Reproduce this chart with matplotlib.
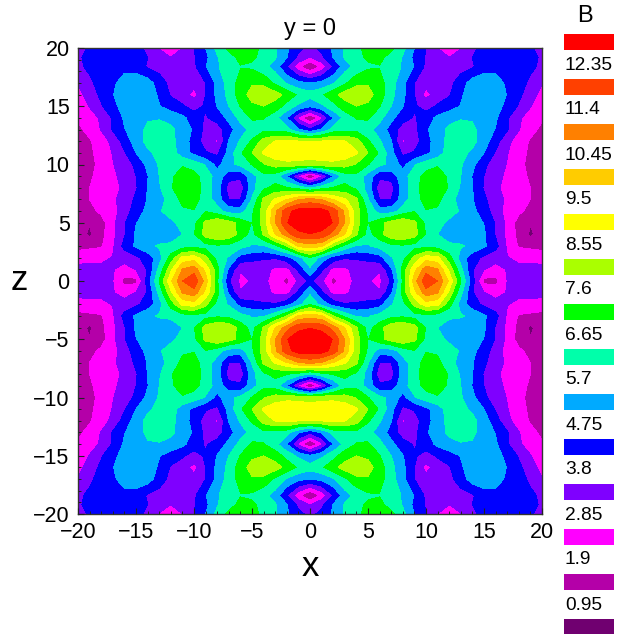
import numpy as np
import matplotlib
matplotlib.use("Agg")
import matplotlib.pyplot as plt
from matplotlib.patches import Rectangle
from matplotlib.ticker import MultipleLocator

plt.rcParams['font.family'] = ['Liberation Sans', 'DejaVu Sans']

x_vals = list(range(0, 21))
z_vals = [0, 1, 2, 3, 4, 5, 6, 7, 8, 9, 10, 11, 12, 13, 14, 15, 16, 17, 18.4, 19.2, 20]
b_z00 = [4.0, 3.0, 1.6, 2.4, 3.1, 2.9, 2.65, 3.9, 6.8, 10.0, 12.1, 11.4, 9.3, 6.7, 4.2, 1.6, 1.6, 2.85, 3.3, 3.4, 3.4]
b_z01 = [5.5, 4.0, 2.5, 2.6, 3.3, 3.1, 2.9, 4.6, 7.0, 9.2, 11.0, 10.5, 8.3, 6.0, 3.9, 2.9, 2.5, 2.9, 3.1, 3.2, 3.2]
b_z02 = [6.6, 5.3, 4.4, 3.9, 3.9, 4.1, 4.4, 5.6, 6.3, 7.9, 9.0, 8.8, 7.0, 5.3, 4.2, 3.6, 3.2, 2.9, 2.6, 2.5, 2.4]
b_z03 = [10.0, 9.7, 7.6, 6.4, 5.6, 5.6, 6.0, 6.4, 6.5, 6.3, 6.3, 6.2, 5.9, 5.8, 5.5, 4.9, 4.1, 2.7, 1.8, 1.7, 1.6]
b_z04 = [12.3, 12.1, 11.0, 9.5, 7.7, 6.3, 7.2, 8.3, 8.5, 8.0, 6.6, 5.7, 5.2, 5.2, 5.3, 4.9, 3.7, 2.6, 1.6, 0.8, 1.3]
b_z05 = [13.0, 12.9, 12.3, 10.4, 8.0, 6.6, 7.3, 8.0, 8.4, 7.8, 6.4, 6.0, 5.5, 5.3, 5.3, 4.7, 3.7, 2.6, 1.5, 1.0, 1.3]
b_z06 = [12.9, 12.8, 12.0, 10.3, 8.0, 6.5, 5.2, 5.3, 6.1, 6.6, 6.6, 6.5, 6.1, 5.6, 5.0, 4.3, 3.3, 2.5, 2.1, 1.6, 1.5]
b_z07 = [10.8, 10.4, 9.5, 8.7, 7.8, 5.8, 3.8, 3.8, 5.3, 6.2, 7.0, 6.9, 6.0, 5.4, 4.8, 4.0, 3.2, 2.7, 2.3, 1.9, 1.7]
b_z08 = [5.6, 6.3, 6.7, 6.9, 6.5, 5.3, 3.2, 3.3, 5.2, 6.2, 7.3, 7.6, 6.5, 5.6, 4.8, 3.7, 3.0, 2.6, 2.2, 1.9, 1.7]
b_z09 = [0.8, 2.6, 4.7, 6.2, 6.4, 5.3, 4.0, 4.2, 5.3, 6.2, 7.0, 7.3, 6.4, 5.7, 4.7, 3.8, 3.1, 2.7, 2.25, 1.75, 1.5]
b_z10 = [8.0, 8.2, 8.2, 8.0, 7.5, 6.7, 5.9, 5.5, 4.4, 5.6, 6.2, 6.5, 6.5, 5.8, 5.0, 4.0, 3.3, 2.8, 2.2, 1.6, 1.4]
b_z11 = [9.2, 9.3, 9.4, 9.2, 8.7, 7.6, 6.5, 5.1, 3.6, 3.9, 4.5, 5.2, 6.2, 6.0, 5.5, 4.75, 3.7, 2.9, 2.3, 1.7, 1.5]
b_z12 = [8.5, 8.6, 8.7, 8.6, 8.0, 6.8, 5.8, 4.8, 2.7, 3.3, 4.4, 5.2, 6.0, 6.5, 6.0, 5.2, 4.2, 3.1, 2.4, 1.8, 1.5]
b_z13 = [4.0, 4.9, 6.1, 6.3, 6.4, 6.0, 5.3, 4.4, 3.3, 3.5, 4.6, 5.3, 5.9, 6.2, 5.9, 5.3, 4.7, 3.9, 2.9, 2.2, 1.7]
b_z14 = [0.8, 2.6, 4.75, 6.0, 6.7, 6.8, 6.0, 5.0, 4.2, 3.7, 4.2, 5.0, 5.4, 5.6, 5.6, 5.4, 4.9, 3.9, 3.0, 2.4, 2.0]
b_z15 = [4.9, 5.5, 6.3, 7.2, 7.6, 7.4, 6.7, 5.7, 4.8, 3.9, 3.5, 3.9, 4.3, 4.8, 5.3, 5.4, 5.1, 4.5, 3.7, 2.9, 2.2]
b_z16 = [6.1, 6.5, 7.3, 8.0, 8.5, 8.0, 7.1, 6.0, 5.0, 3.8, 2.5, 3.4, 3.7, 4.6, 5.3, 5.6, 5.4, 4.7, 4.0, 3.3, 2.5]
b_z17 = [4.75, 5.0, 5.6, 6.5, 7.3, 7.5, 7.0, 6.1, 5.0, 3.8, 3.2, 3.3, 3.5, 4.3, 5.2, 5.4, 5.1, 4.6, 4.2, 3.6, 2.9]
b_z18 = [0.9, 2.2, 3.8, 5.3, 6.0, 6.5, 6.6, 6.2, 5.6, 4.7, 3.6, 3.4, 3.4, 3.4, 3.7, 4.3, 4.5, 4.6, 4.5, 4.0, 3.6]
b_z19 = [2.8, 3.6, 4.8, 5.8, 6.4, 6.8, 6.9, 6.3, 5.6, 4.5, 3.7, 3.2, 2.85, 3.2, 3.8, 4.2, 4.4, 4.5, 4.4, 4.0, 3.7]
b_z20 = [3.6, 4.0, 4.9, 5.8, 6.4, 7.0, 7.2, 6.9, 6.0, 4.75, 3.8, 2.85, 2.3, 2.8, 3.6, 4.1, 4.3, 4.4, 4.3, 3.9, 3.5]
b_rows = [b_z00, b_z01, b_z02, b_z03, b_z04, b_z05, b_z06, b_z07, b_z08, b_z09, b_z10,
          b_z11, b_z12, b_z13, b_z14, b_z15, b_z16, b_z17, b_z18, b_z19, b_z20]

contour_levels = [0.95, 1.9, 2.85, 3.8, 4.75, 5.7, 6.65, 7.6, 8.55, 9.5, 10.45, 11.4, 12.35]
level_labels = ['12.35', '11.4', '10.45', '9.5', '8.55', '7.6', '6.65', '5.7', '4.75', '3.8', '2.85', '1.9', '0.95']
band_colors = ['#700070', '#b400a8', '#ff00ff', '#7f00ff', '#0000ff', '#00aaff', '#00ffaa',
               '#00ff00', '#aaff00', '#ffff00', '#ffcc00', '#ff8000', '#ff4000', '#ff0000']

W, H = 618, 634
fig = plt.figure(figsize=(W / 100, H / 100), dpi=100, facecolor='white')
ax = fig.add_axes([78 / W, 1 - 514 / H, 464 / W, 466 / H])

q = np.array(b_rows)
xs = np.array(x_vals, float)
zs = np.array(z_vals, float)
full_x = np.concatenate([-xs[:0:-1], xs])
full_z = np.concatenate([-zs[:0:-1], zs])
half = np.hstack([q[:, :0:-1], q])
grid = np.vstack([half[:0:-1, :], half])

ax.contourf(full_x, full_z, grid, levels=[-1] + contour_levels + [30], colors=band_colors, antialiased=False)
ax.set_xlim(-20, 20)
ax.set_ylim(-20, 20)
ax.xaxis.set_major_locator(MultipleLocator(5))
ax.yaxis.set_major_locator(MultipleLocator(5))
ax.xaxis.set_minor_locator(MultipleLocator(1))
ax.yaxis.set_minor_locator(MultipleLocator(1))
ax.tick_params(which='major', direction='in', length=4.5, width=0.8, labelsize=15.5, pad=6, color='#222222')
ax.tick_params(which='minor', direction='in', length=2.2, width=0.7, color='#222222')
ax.set_axisbelow(False)
for s in ax.spines.values():
    s.set_linewidth(1.0)
    s.set_color('#333333')
ax.set_title('y = 0', fontsize=17, pad=9)
fig.text(310 / W, 1 - 566 / H, 'x', fontsize=25, ha='center', va='center')
fig.text(19 / W, 1 - 281 / H, 'z', fontsize=25, ha='center', va='center')

fig.text(585 / W, 1 - 16 / H, 'B', fontsize=17, ha='center', va='center')
for i, c in enumerate(band_colors[::-1]):
    top = 34 + 45 * i
    fig.add_artist(Rectangle((564 / W, 1 - (top + 16) / H), 50 / W, 16 / H,
                             transform=fig.transFigure, facecolor=c, edgecolor='none'))
    if i < len(level_labels):
        fig.text(565 / W, 1 - (top + 31) / H, level_labels[i], fontsize=13.8, ha='left', va='center')

fig.savefig('out.png', dpi=100)
